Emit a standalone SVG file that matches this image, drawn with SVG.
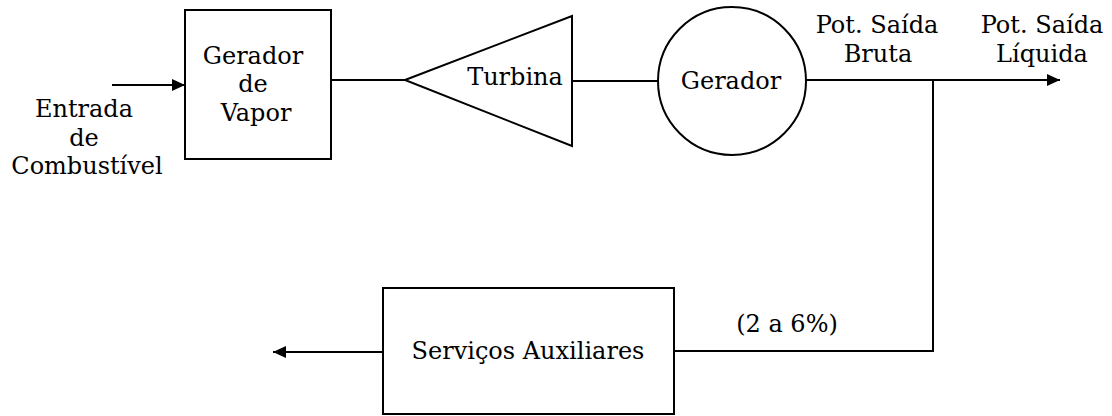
<svg xmlns="http://www.w3.org/2000/svg" width="1112" height="416" viewBox="0 0 1112 416">
  <style>
    .shape { fill: #fff; stroke: #000; stroke-width: 2; }
    .wire { fill: none; stroke: #000; stroke-width: 2; }
    .lbl { font-family: "DejaVu Serif", "Liberation Serif", serif; font-size: 24px; fill: #000; text-anchor: middle; }
  </style>
  <defs>
    <marker id="arrow" markerUnits="userSpaceOnUse" markerWidth="13" markerHeight="12" refX="13" refY="6" orient="auto">
      <path d="M0,0 L13,6 L0,12 Z" fill="#000"/>
    </marker>
  </defs>
  <rect width="1112" height="416" fill="#fff"/>

  <g id="connectors">
    <line class="wire" x1="112" y1="85" x2="185" y2="85" marker-end="url(#arrow)"/>
    <line class="wire" x1="331" y1="80" x2="405" y2="80"/>
    <line class="wire" x1="572" y1="81" x2="659" y2="81"/>
    <line class="wire" x1="806" y1="80" x2="1060" y2="80" marker-end="url(#arrow)"/>
    <polyline class="wire" points="933,80 933,351 674,351"/>
    <line class="wire" x1="383" y1="352" x2="273" y2="352" marker-end="url(#arrow)"/>
  </g>

  <g id="fuel-input">
    <text class="lbl" x="84" y="117">Entrada</text>
    <text class="lbl" x="84" y="146">de</text>
    <text class="lbl" x="87" y="174">Combustível</text>
  </g>

  <g id="steam-generator">
    <rect class="shape" x="185" y="10" width="146" height="149"/>
    <text class="lbl" x="253" y="64">Gerador</text>
    <text class="lbl" x="253" y="92">de</text>
    <text class="lbl" x="256" y="121">Vapor</text>
  </g>

  <g id="turbine">
    <polygon class="shape" points="405,80 572,16 572,146"/>
    <text class="lbl" x="515" y="85">Turbina</text>
  </g>

  <g id="generator">
    <circle class="shape" cx="732" cy="81" r="74"/>
    <text class="lbl" x="731" y="89">Gerador</text>
  </g>

  <g id="gross-output">
    <text class="lbl" x="877" y="33">Pot. Saída</text>
    <text class="lbl" x="878" y="62">Bruta</text>
  </g>

  <g id="net-output">
    <text class="lbl" x="1042" y="33">Pot. Saída</text>
    <text class="lbl" x="1042" y="62">Líquida</text>
  </g>

  <g id="aux-share">
    <text class="lbl" x="787" y="332">(2 a 6%)</text>
  </g>

  <g id="auxiliary-services">
    <rect class="shape" x="383" y="288" width="291" height="126"/>
    <text class="lbl" x="528" y="359">Serviços Auxiliares</text>
  </g>
</svg>
